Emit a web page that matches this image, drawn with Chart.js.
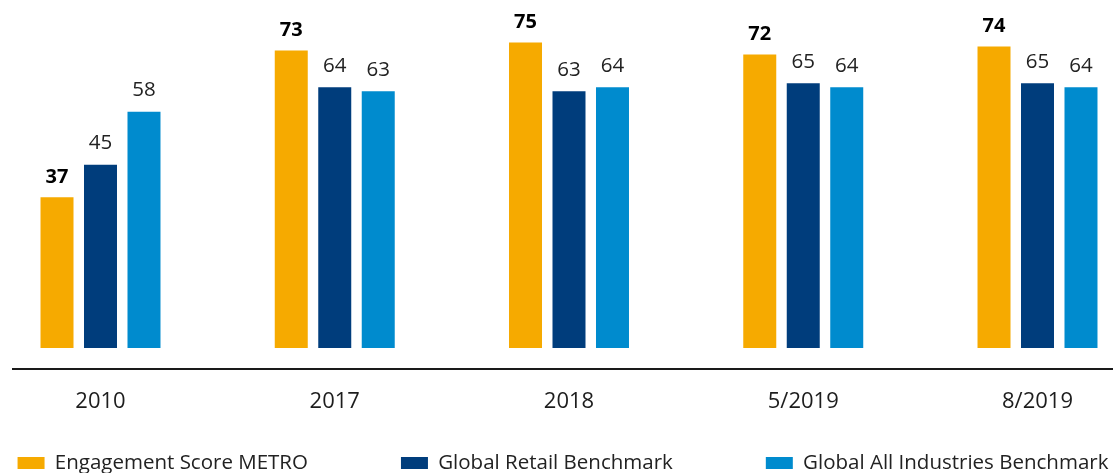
<!DOCTYPE html>
<html>
<head>
<meta charset="utf-8">
<script src="https://cdn.jsdelivr.net/npm/chart.js@4.4.0/dist/chart.umd.min.js"></script>
<style>
    html, body { margin: 0; padding: 0; background: #fff; overflow: hidden; }
    #wrap { position: relative; width: 1113px; height: 473px; }
</style>
</head>
<body>
<div id="wrap"><canvas id="chart"></canvas></div>
<script>
// --- data ---
const periods = ['2010', '2017', '2018', '5/2019', '8/2019'];
const metroScores = [37, 73, 75, 72, 74];
const retailBenchmark = [45, 64, 63, 65, 65];
const allIndustriesBenchmark = [58, 63, 64, 64, 64];
const seriesNames = ['Engagement Score METRO', 'Global Retail Benchmark', 'Global All Industries Benchmark'];

const COLORS = ['#f6aa00', '#003d7c', '#008bce'];
const FONT = "'Open Sans', sans-serif";

// layout tuning (pixels)
const PAD_L = -97, PAD_R = -110;   // negative so the legend can use the whole width
const LEGEND_PAD = 93;
const LEGEND_FONT = 20.5;
const AREA_LEFT = 100.5, AREA_RIGHT = 1037.5, AREA_BOTTOM = 348;
const LEGEND_MID = 463;
const TICK_MID = 402;
// Chart.js legend height = padding + item height + 10
const legendTop = LEGEND_MID - LEGEND_FONT / 2 - LEGEND_PAD;
const legendBottom = legendTop + LEGEND_PAD + LEGEND_FONT + 10;

// numbers above the bars
const valueLabels = {
    id: 'valueLabels',
    afterDatasetsDraw(chart) {
        const ctx = chart.ctx;
        ctx.save();
        ctx.textAlign = 'center';
        ctx.textBaseline = 'middle';
        chart.data.datasets.forEach((ds, i) => {
            const meta = chart.getDatasetMeta(i);
            const bold = i === 0;
            ctx.font = bold ? `bold 20px ${FONT}` : `20.5px ${FONT}`;
            ctx.fillStyle = bold ? '#000' : '#222';
            meta.data.forEach((bar, j) => {
                ctx.fillText(String(ds.data[j]), bar.x, bar.y - (bold ? 20 : 21));
            });
        });
        ctx.restore();
    },
};

// long rule under the bars
const baseLine = {
    id: 'baseLine',
    afterDraw(chart) {
        const { ctx, chartArea } = chart;
        const y = chartArea.bottom + 21;
        ctx.save();
        ctx.strokeStyle = '#1a1a1a';
        ctx.lineWidth = 2;
        ctx.beginPath();
        ctx.moveTo(12, y);
        ctx.lineTo(chart.width, y);
        ctx.stroke();
        ctx.restore();
    },
};

new Chart(document.getElementById('chart'), {
    type: 'bar',
    data: {
        labels: periods,
        datasets: [metroScores, retailBenchmark, allIndustriesBenchmark].map((data, i) => ({
            label: seriesNames[i],
            data,
            backgroundColor: COLORS[i],
            borderWidth: 0,
            clip: false,
            categoryPercentage: 0.557,
            barPercentage: 0.7586,
        })),
    },
    options: {
        responsive: true,
        maintainAspectRatio: false,
        animation: false,
        layout: {
            padding: { left: PAD_L, right: PAD_R, top: 22, bottom: 473 - legendBottom },
        },
        scales: {
            x: {
                offset: false,
                grid: { display: false },
                border: { display: false },
                ticks: {
                    color: '#1d1d1d',
                    font: { family: FONT, size: 22 },
                    // mirrored labels are not clipped to the (short) axis box
                    mirror: true,
                    padding: -(TICK_MID - AREA_BOTTOM + 22 * 1.2 / 2),
                    maxRotation: 0,
                    autoSkip: false,
                },
                afterFit: (s) => {
                    s.height = legendTop - AREA_BOTTOM;
                    s.paddingLeft = 0;
                    s.paddingRight = 0;
                },
            },
            y: {
                min: 0,
                max: 80,
                grid: { display: false },
                border: { display: false },
                ticks: { display: false },
                afterFit: (s) => { s.width = AREA_LEFT - PAD_L; },
            },
            yRight: {
                type: 'linear',
                position: 'right',
                grid: { display: false },
                border: { display: false },
                ticks: { display: false },
                afterFit: (s) => { s.width = 1113 - AREA_RIGHT - PAD_R; },
            },
        },
        plugins: {
            legend: {
                position: 'bottom',
                align: 'center',
                labels: {
                    boxWidth: 27,
                    boxHeight: 12,
                    padding: LEGEND_PAD,
                    color: '#222',
                    font: { family: FONT, size: LEGEND_FONT },
                },
            },
            tooltip: { enabled: false },
        },
    },
    plugins: [valueLabels, baseLine],
});
</script>
</body>
</html>
